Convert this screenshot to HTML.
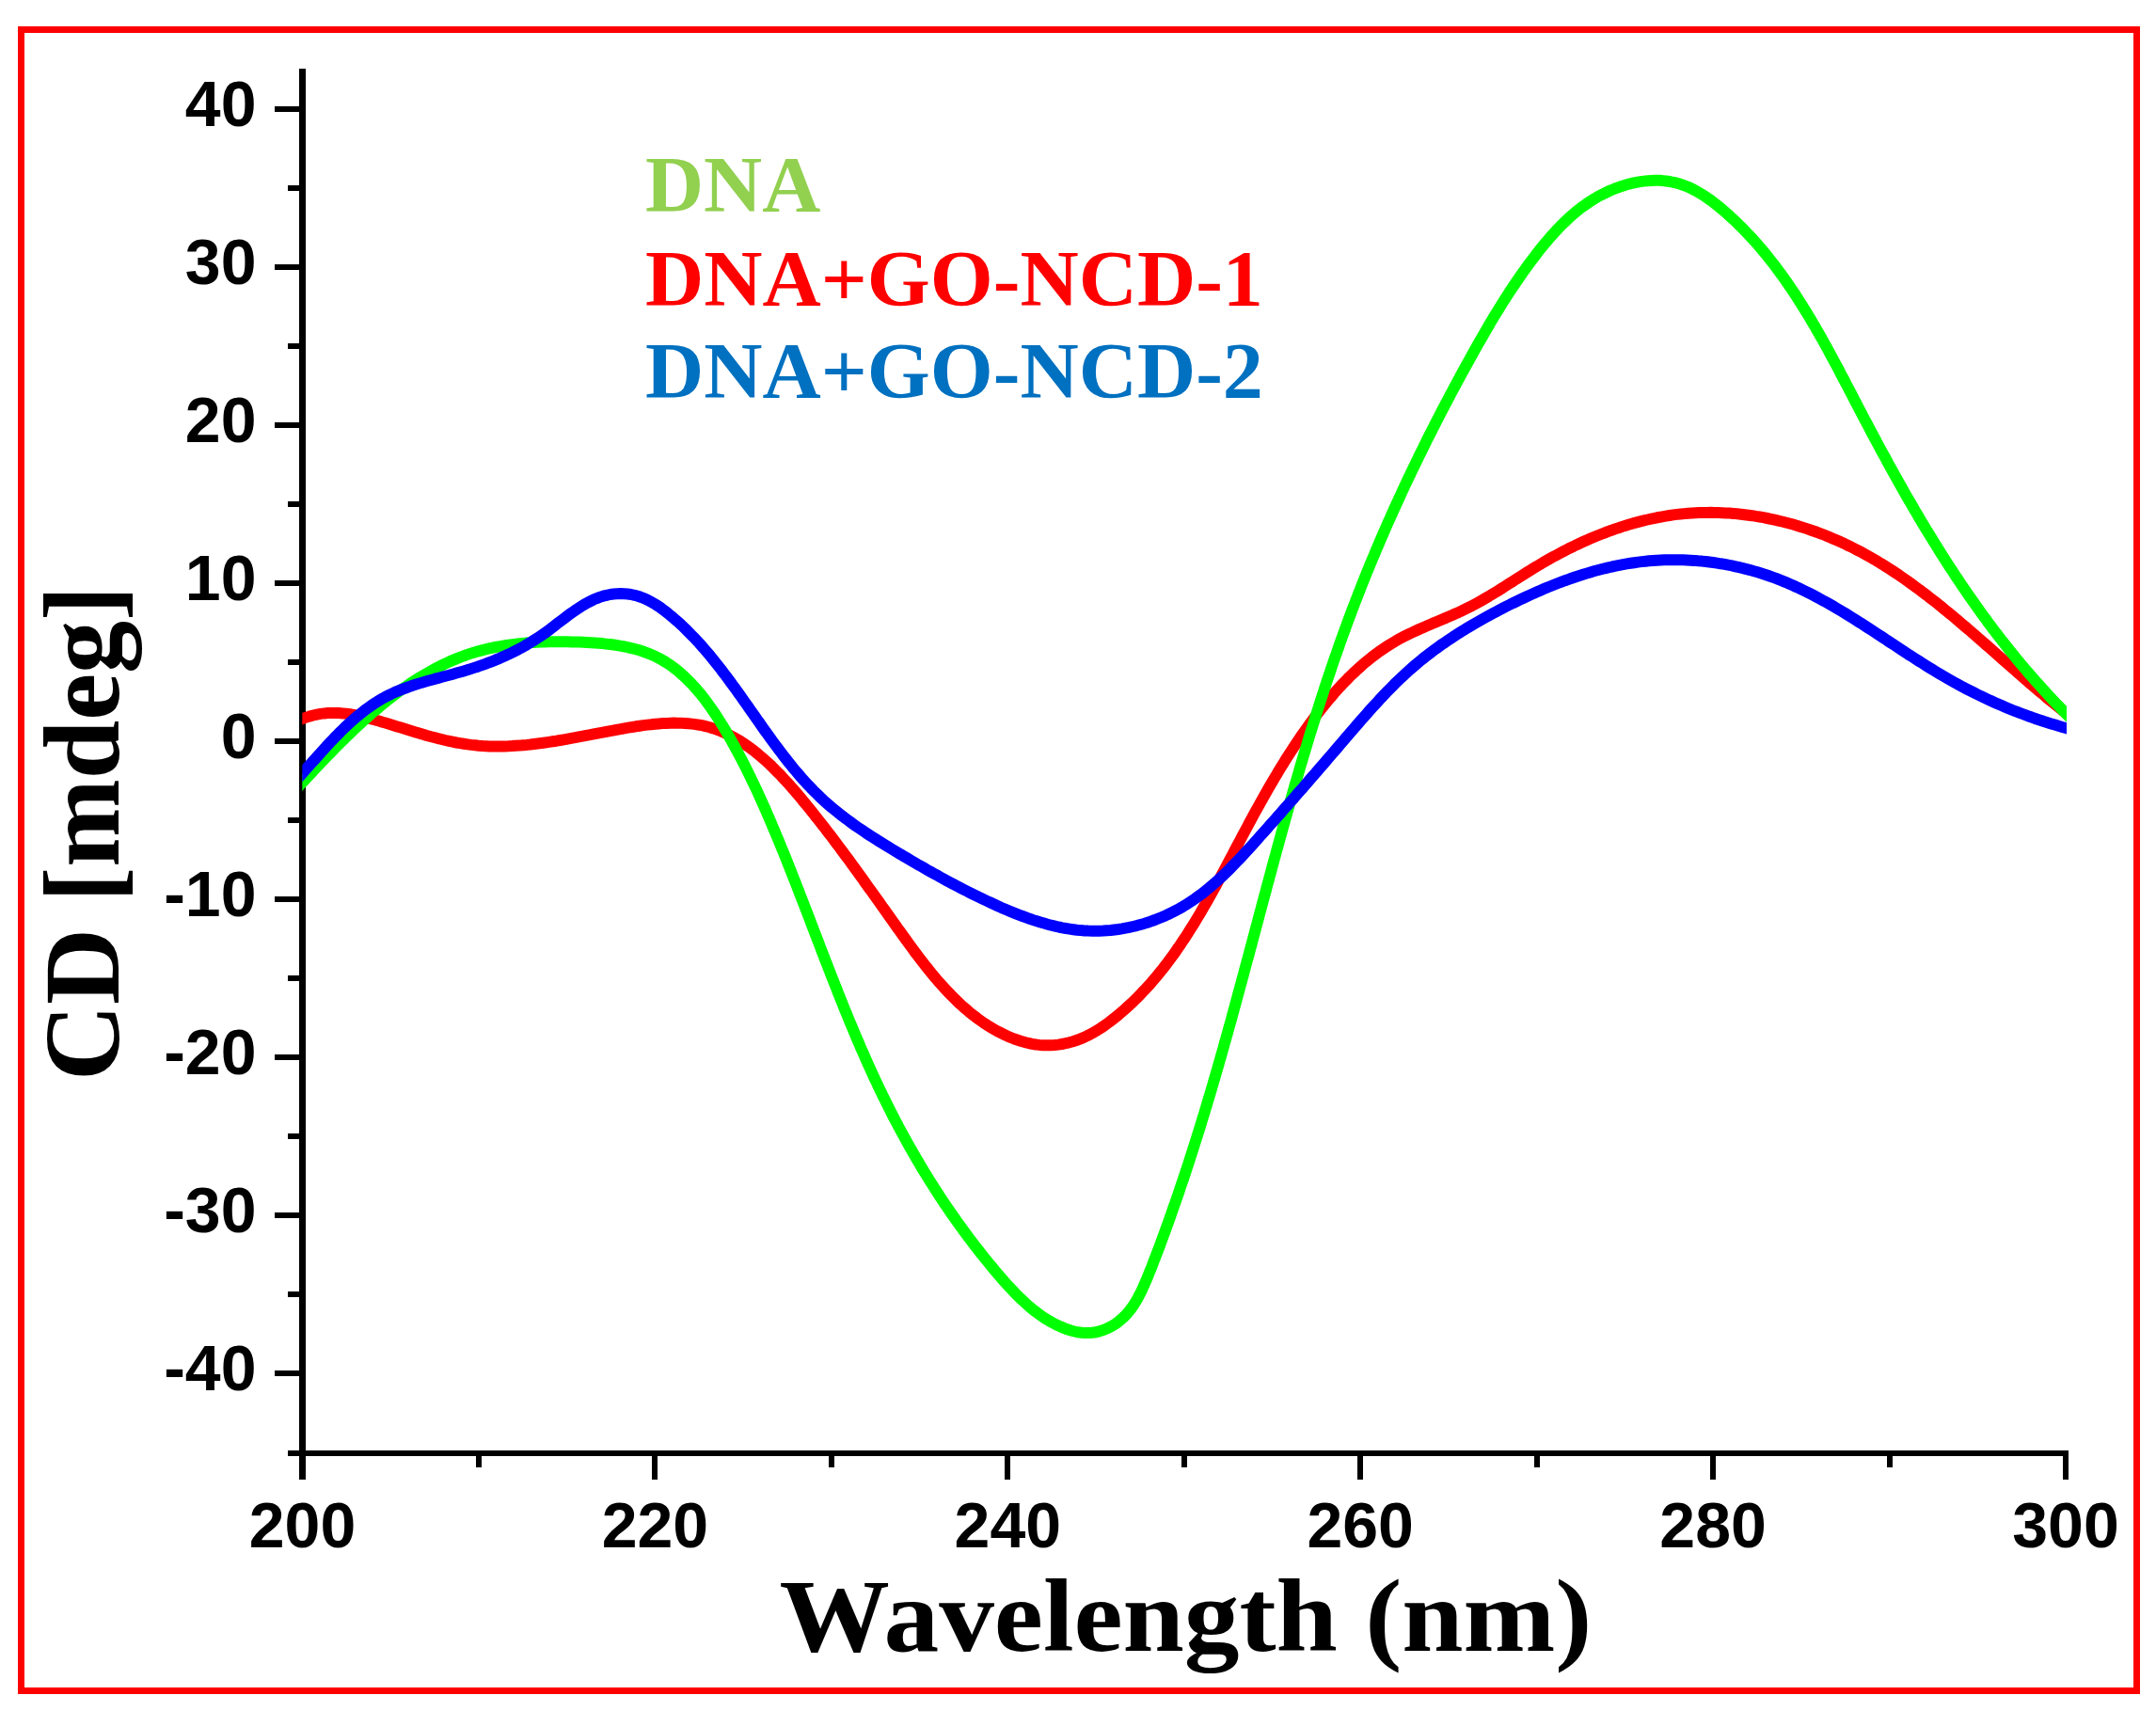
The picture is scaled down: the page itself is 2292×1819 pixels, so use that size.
<!DOCTYPE html>
<html lang="en">
<head>
<meta charset="utf-8">
<title>CD spectra</title>
<style>
html,body{margin:0;padding:0;background:#fff;}
body{width:2292px;height:1819px;overflow:hidden;position:relative;}
svg{display:block;position:absolute;left:0;top:0;}
</style>
</head>
<body>
<svg width="2292" height="1819" viewBox="0 0 2292 1819">
<rect x="0" y="0" width="2292" height="1819" fill="#fff"/>
<rect x="22.5" y="31.5" width="2249" height="1766" fill="none" stroke="#f00" stroke-width="7"/>
<g stroke="#000" fill="none" stroke-linecap="butt">
<line x1="321.5" y1="73" x2="321.5" y2="1573" stroke-width="7"/>
<line x1="306" y1="1545" x2="2199" y2="1545" stroke-width="6"/>
<g stroke-width="6">
<line x1="292" y1="1460" x2="320" y2="1460"/>
<line x1="292" y1="1292" x2="320" y2="1292"/>
<line x1="292" y1="1124" x2="320" y2="1124"/>
<line x1="292" y1="956" x2="320" y2="956"/>
<line x1="292" y1="788" x2="320" y2="788"/>
<line x1="292" y1="620" x2="320" y2="620"/>
<line x1="292" y1="452" x2="320" y2="452"/>
<line x1="292" y1="284" x2="320" y2="284"/>
<line x1="292" y1="116" x2="320" y2="116"/>
<line x1="306" y1="1376" x2="320" y2="1376"/>
<line x1="306" y1="1208" x2="320" y2="1208"/>
<line x1="306" y1="1040" x2="320" y2="1040"/>
<line x1="306" y1="872" x2="320" y2="872"/>
<line x1="306" y1="704" x2="320" y2="704"/>
<line x1="306" y1="536" x2="320" y2="536"/>
<line x1="306" y1="368" x2="320" y2="368"/>
<line x1="306" y1="200" x2="320" y2="200"/>
<line x1="696" y1="1545" x2="696" y2="1573"/>
<line x1="1071" y1="1545" x2="1071" y2="1573"/>
<line x1="1446" y1="1545" x2="1446" y2="1573"/>
<line x1="1821" y1="1545" x2="1821" y2="1573"/>
<line x1="2196" y1="1545" x2="2196" y2="1573"/>
<line x1="509" y1="1545" x2="509" y2="1560"/>
<line x1="884" y1="1545" x2="884" y2="1560"/>
<line x1="1259" y1="1545" x2="1259" y2="1560"/>
<line x1="1634" y1="1545" x2="1634" y2="1560"/>
<line x1="2009" y1="1545" x2="2009" y2="1560"/>
</g>
</g>
<g font-family="'Liberation Sans', Arial, sans-serif" font-weight="bold" font-size="68px" fill="#000">
<text x="272.5" y="1478.3" text-anchor="end">-40</text>
<text x="272.5" y="1310.3" text-anchor="end">-30</text>
<text x="272.5" y="1142.3" text-anchor="end">-20</text>
<text x="272.5" y="974.3" text-anchor="end">-10</text>
<text x="272.5" y="806.3" text-anchor="end">0</text>
<text x="272.5" y="638.3" text-anchor="end">10</text>
<text x="272.5" y="470.3" text-anchor="end">20</text>
<text x="272.5" y="302.3" text-anchor="end">30</text>
<text x="272.5" y="134.3" text-anchor="end">40</text>
<text x="321.5" y="1645.3" text-anchor="middle">200</text>
<text x="696.4" y="1645.3" text-anchor="middle">220</text>
<text x="1071.3" y="1645.3" text-anchor="middle">240</text>
<text x="1446.2" y="1645.3" text-anchor="middle">260</text>
<text x="1821.1" y="1645.3" text-anchor="middle">280</text>
<text x="2196.0" y="1645.3" text-anchor="middle">300</text>
</g>
<defs><clipPath id="cp"><rect x="321.3" y="60" width="1875.7" height="1480"/></clipPath></defs>
<g clip-path="url(#cp)" fill="none" stroke-width="12.0" stroke-linejoin="round" stroke-linecap="butt">
<path stroke="#f00" d="M312.6,767.5 L320.7,764.4 L324.8,762.9 L328.8,761.6 L332.9,760.5 L336.9,759.6 L340.8,758.9 L344.8,758.4 L348.7,758.1 L352.6,757.9 L356.5,757.9 L360.4,758.1 L364.3,758.4 L368.2,758.8 L372.0,759.3 L375.9,759.9 L379.7,760.7 L383.6,761.5 L387.4,762.4 L391.3,763.4 L395.1,764.4 L399.0,765.4 L402.9,766.5 L406.7,767.7 L410.6,768.8 L414.5,770.0 L418.4,771.2 L422.3,772.4 L426.2,773.6 L430.1,774.8 L434.0,776.0 L438.0,777.2 L441.9,778.4 L445.8,779.6 L449.8,780.7 L453.7,781.9 L457.6,783.0 L461.6,784.0 L465.5,785.1 L469.5,786.0 L473.4,787.0 L477.4,787.9 L481.3,788.7 L485.2,789.5 L489.2,790.2 L493.1,790.8 L497.1,791.4 L501.0,791.9 L504.9,792.3 L508.9,792.7 L512.8,793.0 L516.7,793.2 L520.6,793.4 L524.6,793.5 L528.5,793.5 L532.4,793.5 L536.3,793.4 L540.3,793.3 L544.2,793.1 L548.1,792.8 L552.1,792.6 L556.0,792.2 L559.9,791.9 L563.8,791.5 L567.8,791.0 L571.7,790.5 L575.7,790.0 L579.6,789.5 L583.6,788.9 L587.5,788.3 L591.5,787.7 L595.4,787.0 L599.4,786.3 L603.4,785.6 L607.3,784.9 L611.3,784.2 L615.3,783.4 L619.3,782.7 L623.3,781.9 L627.3,781.2 L631.3,780.4 L635.3,779.6 L639.3,778.9 L643.4,778.1 L647.4,777.3 L651.5,776.6 L655.5,775.8 L659.6,775.1 L663.7,774.3 L667.7,773.6 L671.8,773.0 L675.9,772.3 L680.0,771.7 L684.0,771.1 L688.1,770.6 L692.2,770.2 L696.2,769.7 L700.3,769.4 L704.3,769.1 L708.3,768.9 L712.3,768.7 L716.3,768.6 L720.2,768.7 L724.1,768.8 L728.1,768.9 L731.9,769.2 L735.8,769.6 L739.6,770.1 L743.4,770.7 L747.2,771.4 L750.9,772.3 L754.6,773.3 L758.2,774.4 L761.8,775.6 L765.4,776.9 L768.9,778.4 L772.4,780.0 L775.9,781.7 L779.3,783.5 L782.7,785.4 L786.1,787.4 L789.4,789.5 L792.6,791.7 L795.9,794.0 L799.1,796.4 L802.3,798.8 L805.4,801.4 L808.5,804.0 L811.6,806.6 L814.7,809.4 L817.7,812.2 L820.7,815.0 L823.6,817.9 L826.6,820.9 L829.5,823.8 L832.3,826.9 L835.2,830.0 L838.0,833.1 L840.8,836.2 L843.5,839.3 L846.3,842.5 L849.0,845.7 L851.7,848.9 L854.3,852.1 L857.0,855.3 L859.6,858.5 L862.2,861.8 L864.8,865.0 L867.3,868.2 L869.8,871.4 L872.3,874.5 L874.8,877.7 L877.3,880.9 L879.7,884.1 L882.2,887.3 L884.6,890.4 L887.0,893.6 L889.4,896.8 L891.8,900.0 L894.1,903.1 L896.5,906.3 L898.8,909.5 L901.2,912.6 L903.5,915.8 L905.8,919.0 L908.1,922.1 L910.4,925.3 L912.7,928.5 L915.0,931.6 L917.3,934.8 L919.5,938.0 L921.8,941.2 L924.1,944.4 L926.4,947.5 L928.7,950.7 L930.9,953.9 L933.2,957.1 L935.5,960.3 L937.8,963.6 L940.1,966.8 L942.4,970.0 L944.7,973.3 L947.0,976.5 L949.3,979.7 L951.6,983.0 L953.9,986.3 L956.3,989.5 L958.6,992.8 L961.0,996.1 L963.4,999.4 L965.8,1002.7 L968.2,1006.0 L970.6,1009.3 L973.0,1012.6 L975.5,1015.9 L978.0,1019.1 L980.5,1022.4 L983.0,1025.6 L985.5,1028.8 L988.1,1032.0 L990.7,1035.2 L993.3,1038.3 L996.0,1041.5 L998.6,1044.6 L1001.3,1047.6 L1004.1,1050.6 L1006.9,1053.6 L1009.7,1056.5 L1012.5,1059.4 L1015.4,1062.3 L1018.3,1065.1 L1021.2,1067.9 L1024.2,1070.6 L1027.3,1073.2 L1030.3,1075.8 L1033.4,1078.3 L1036.6,1080.8 L1039.8,1083.2 L1043.0,1085.5 L1046.3,1087.8 L1049.7,1090.0 L1053.1,1092.1 L1056.5,1094.1 L1060.0,1096.1 L1063.5,1097.9 L1067.1,1099.7 L1070.8,1101.4 L1074.5,1103.0 L1078.2,1104.5 L1082.0,1105.8 L1085.8,1107.0 L1089.6,1108.1 L1093.4,1109.0 L1097.3,1109.8 L1101.2,1110.5 L1105.2,1110.9 L1109.1,1111.2 L1113.1,1111.3 L1117.0,1111.2 L1121.0,1111.0 L1124.9,1110.6 L1128.9,1110.0 L1132.8,1109.2 L1136.6,1108.3 L1140.5,1107.2 L1144.3,1106.0 L1148.1,1104.6 L1151.8,1103.1 L1155.4,1101.4 L1159.0,1099.6 L1162.5,1097.7 L1166.0,1095.6 L1169.4,1093.5 L1172.8,1091.2 L1176.1,1088.9 L1179.4,1086.5 L1182.6,1084.0 L1185.8,1081.5 L1188.9,1079.0 L1192.0,1076.3 L1195.0,1073.7 L1198.0,1071.0 L1201.0,1068.3 L1203.9,1065.6 L1206.8,1062.8 L1209.6,1060.0 L1212.4,1057.1 L1215.1,1054.2 L1217.9,1051.3 L1220.5,1048.4 L1223.2,1045.4 L1225.8,1042.4 L1228.4,1039.4 L1230.9,1036.4 L1233.4,1033.3 L1235.9,1030.2 L1238.4,1027.0 L1240.8,1023.9 L1243.2,1020.7 L1245.5,1017.5 L1247.9,1014.3 L1250.2,1011.0 L1252.4,1007.7 L1254.7,1004.5 L1256.9,1001.1 L1259.1,997.8 L1261.3,994.5 L1263.5,991.1 L1265.6,987.7 L1267.8,984.3 L1269.9,980.9 L1271.9,977.5 L1274.0,974.0 L1276.1,970.6 L1278.1,967.1 L1280.1,963.6 L1282.1,960.2 L1284.1,956.7 L1286.1,953.1 L1288.1,949.6 L1290.0,946.1 L1292.0,942.6 L1293.9,939.0 L1295.8,935.5 L1297.8,931.9 L1299.7,928.4 L1301.6,924.8 L1303.5,921.2 L1305.4,917.7 L1307.3,914.1 L1309.2,910.5 L1311.1,907.0 L1312.9,903.4 L1314.8,899.8 L1316.7,896.3 L1318.6,892.7 L1320.5,889.1 L1322.4,885.6 L1324.3,882.0 L1326.2,878.5 L1328.1,874.9 L1330.0,871.4 L1331.9,867.9 L1333.8,864.3 L1335.8,860.8 L1337.7,857.3 L1339.7,853.8 L1341.6,850.3 L1343.6,846.8 L1345.6,843.3 L1347.5,839.8 L1349.5,836.4 L1351.5,832.9 L1353.6,829.4 L1355.6,826.0 L1357.7,822.6 L1359.7,819.1 L1361.8,815.7 L1363.9,812.3 L1366.0,808.9 L1368.1,805.5 L1370.3,802.2 L1372.4,798.8 L1374.6,795.4 L1376.8,792.1 L1379.0,788.8 L1381.3,785.5 L1383.5,782.2 L1385.8,778.9 L1388.1,775.6 L1390.5,772.3 L1392.8,769.1 L1395.2,765.9 L1397.6,762.6 L1400.0,759.4 L1402.5,756.3 L1405.0,753.1 L1407.5,750.0 L1410.0,746.8 L1412.6,743.7 L1415.2,740.7 L1417.8,737.6 L1420.5,734.6 L1423.2,731.6 L1425.9,728.7 L1428.6,725.7 L1431.4,722.9 L1434.2,720.0 L1437.1,717.2 L1440.0,714.5 L1442.9,711.7 L1445.9,709.1 L1448.9,706.4 L1451.9,703.8 L1455.0,701.3 L1458.1,698.8 L1461.3,696.4 L1464.5,694.0 L1467.7,691.7 L1471.0,689.5 L1474.3,687.3 L1477.7,685.1 L1481.1,683.1 L1484.5,681.0 L1488.0,679.1 L1491.5,677.2 L1495.1,675.4 L1498.7,673.6 L1502.4,671.9 L1506.0,670.2 L1509.7,668.5 L1513.4,666.9 L1517.2,665.3 L1520.9,663.7 L1524.6,662.1 L1528.4,660.6 L1532.1,659.0 L1535.9,657.4 L1539.6,655.8 L1543.3,654.2 L1547.0,652.5 L1550.7,650.9 L1554.4,649.2 L1558.0,647.4 L1561.6,645.6 L1565.2,643.8 L1568.7,641.9 L1572.3,640.0 L1575.8,638.0 L1579.2,636.0 L1582.7,634.0 L1586.1,631.9 L1589.5,629.9 L1592.9,627.8 L1596.3,625.6 L1599.7,623.5 L1603.1,621.3 L1606.5,619.2 L1609.8,617.0 L1613.2,614.9 L1616.6,612.7 L1620.0,610.6 L1623.4,608.4 L1626.8,606.3 L1630.2,604.2 L1633.6,602.1 L1637.1,600.1 L1640.5,598.0 L1644.0,596.0 L1647.5,594.0 L1651.0,592.1 L1654.6,590.2 L1658.1,588.3 L1661.7,586.4 L1665.3,584.5 L1668.8,582.7 L1672.5,581.0 L1676.1,579.2 L1679.7,577.5 L1683.4,575.8 L1687.0,574.2 L1690.7,572.6 L1694.4,571.0 L1698.1,569.5 L1701.9,568.0 L1705.6,566.6 L1709.3,565.1 L1713.1,563.8 L1716.9,562.4 L1720.7,561.2 L1724.5,559.9 L1728.3,558.7 L1732.1,557.5 L1735.9,556.4 L1739.8,555.4 L1743.6,554.4 L1747.5,553.4 L1751.4,552.5 L1755.3,551.6 L1759.2,550.8 L1763.1,550.0 L1767.0,549.3 L1770.9,548.6 L1774.8,548.0 L1778.8,547.4 L1782.7,546.9 L1786.7,546.5 L1790.7,546.1 L1794.6,545.7 L1798.6,545.4 L1802.6,545.2 L1806.6,545.0 L1810.6,544.9 L1814.6,544.9 L1818.6,544.8 L1822.6,544.9 L1826.6,545.0 L1830.7,545.2 L1834.7,545.4 L1838.7,545.6 L1842.7,545.9 L1846.7,546.3 L1850.7,546.7 L1854.7,547.2 L1858.7,547.7 L1862.7,548.2 L1866.7,548.9 L1870.7,549.5 L1874.7,550.2 L1878.7,551.0 L1882.6,551.8 L1886.6,552.7 L1890.5,553.6 L1894.5,554.5 L1898.4,555.5 L1902.3,556.5 L1906.2,557.6 L1910.1,558.7 L1914.0,559.9 L1917.8,561.1 L1921.7,562.4 L1925.5,563.7 L1929.3,565.0 L1933.1,566.4 L1936.9,567.8 L1940.6,569.3 L1944.4,570.8 L1948.1,572.4 L1951.8,574.0 L1955.4,575.6 L1959.1,577.2 L1962.7,579.0 L1966.3,580.7 L1969.9,582.5 L1973.5,584.3 L1977.0,586.1 L1980.5,588.0 L1984.0,589.9 L1987.5,591.9 L1990.9,593.9 L1994.4,595.9 L1997.8,598.0 L2001.2,600.0 L2004.5,602.1 L2007.9,604.3 L2011.2,606.4 L2014.6,608.6 L2017.9,610.8 L2021.2,613.1 L2024.5,615.4 L2027.7,617.7 L2031.0,620.0 L2034.2,622.3 L2037.4,624.7 L2040.6,627.0 L2043.8,629.5 L2047.0,631.9 L2050.2,634.3 L2053.3,636.8 L2056.5,639.2 L2059.6,641.7 L2062.8,644.2 L2065.9,646.8 L2069.0,649.3 L2072.1,651.9 L2075.2,654.4 L2078.3,657.0 L2081.4,659.6 L2084.4,662.2 L2087.5,664.8 L2090.5,667.4 L2093.6,670.0 L2096.7,672.7 L2099.7,675.3 L2102.7,678.0 L2105.8,680.6 L2108.8,683.3 L2111.8,685.9 L2114.9,688.6 L2117.9,691.2 L2120.9,693.9 L2123.9,696.6 L2126.9,699.2 L2130.0,701.9 L2133.0,704.6 L2136.0,707.2 L2139.0,709.9 L2142.1,712.6 L2145.1,715.2 L2148.1,717.9 L2151.1,720.5 L2154.2,723.1 L2157.2,725.8 L2160.3,728.4 L2163.3,731.0 L2166.4,733.6 L2169.4,736.2 L2172.5,738.7 L2175.6,741.3 L2178.6,743.9 L2181.7,746.4 L2184.8,748.9 L2187.9,751.4 L2191.0,753.9 L2194.1,756.4 L2197.3,758.9 L2203.5,763.8"/>
<path stroke="#0f0" d="M316.2,837.5 L321.4,831.8 L324.1,829.0 L326.7,826.2 L329.4,823.3 L332.1,820.5 L334.7,817.6 L337.5,814.7 L340.2,811.9 L342.9,809.0 L345.7,806.1 L348.4,803.2 L351.2,800.4 L354.0,797.5 L356.8,794.6 L359.7,791.8 L362.5,788.9 L365.4,786.1 L368.3,783.3 L371.2,780.4 L374.1,777.6 L377.0,774.8 L380.0,772.1 L383.0,769.3 L385.9,766.6 L389.0,763.9 L392.0,761.2 L395.0,758.5 L398.1,755.9 L401.2,753.3 L404.3,750.7 L407.4,748.1 L410.5,745.6 L413.7,743.1 L416.9,740.6 L420.1,738.2 L423.3,735.8 L426.6,733.4 L429.8,731.1 L433.1,728.8 L436.4,726.6 L439.8,724.4 L443.1,722.2 L446.5,720.1 L449.9,718.1 L453.3,716.1 L456.8,714.1 L460.2,712.2 L463.7,710.3 L467.2,708.5 L470.8,706.8 L474.3,705.1 L477.9,703.4 L481.5,701.9 L485.1,700.4 L488.8,698.9 L492.5,697.5 L496.2,696.2 L499.9,694.9 L503.7,693.7 L507.5,692.6 L511.3,691.6 L515.1,690.6 L518.9,689.7 L522.8,688.8 L526.7,688.0 L530.6,687.3 L534.6,686.6 L538.5,686.0 L542.5,685.4 L546.5,684.9 L550.5,684.4 L554.5,684.0 L558.5,683.6 L562.6,683.3 L566.6,683.0 L570.7,682.8 L574.8,682.6 L578.8,682.4 L582.9,682.3 L587.0,682.3 L591.1,682.2 L595.2,682.2 L599.3,682.2 L603.5,682.3 L607.6,682.4 L611.7,682.5 L615.8,682.6 L619.9,682.8 L624.1,683.0 L628.2,683.2 L632.3,683.5 L636.4,683.8 L640.4,684.1 L644.5,684.6 L648.5,685.0 L652.5,685.5 L656.5,686.1 L660.5,686.8 L664.4,687.5 L668.3,688.4 L672.1,689.3 L675.9,690.3 L679.7,691.3 L683.4,692.5 L687.0,693.8 L690.6,695.2 L694.2,696.7 L697.7,698.4 L701.1,700.1 L704.5,702.0 L707.8,704.0 L711.0,706.1 L714.2,708.3 L717.3,710.6 L720.4,713.0 L723.4,715.6 L726.3,718.2 L729.2,720.9 L732.0,723.7 L734.8,726.5 L737.6,729.5 L740.2,732.5 L742.9,735.6 L745.5,738.7 L748.0,741.9 L750.5,745.2 L752.9,748.5 L755.3,751.9 L757.7,755.3 L760.0,758.7 L762.3,762.1 L764.5,765.6 L766.7,769.1 L768.9,772.7 L771.0,776.2 L773.1,779.8 L775.2,783.3 L777.2,786.9 L779.2,790.4 L781.2,794.0 L783.1,797.6 L785.0,801.1 L786.9,804.7 L788.8,808.2 L790.6,811.8 L792.4,815.3 L794.2,818.9 L795.9,822.4 L797.7,826.0 L799.4,829.6 L801.1,833.1 L802.8,836.7 L804.5,840.3 L806.1,843.8 L807.7,847.4 L809.4,851.0 L811.0,854.6 L812.6,858.2 L814.2,861.8 L815.7,865.4 L817.3,869.0 L818.9,872.6 L820.4,876.2 L821.9,879.9 L823.5,883.5 L825.0,887.2 L826.5,890.8 L828.1,894.5 L829.6,898.2 L831.1,901.9 L832.6,905.5 L834.1,909.2 L835.6,912.9 L837.0,916.6 L838.5,920.3 L840.0,924.1 L841.5,927.8 L842.9,931.5 L844.4,935.2 L845.9,938.9 L847.3,942.7 L848.8,946.4 L850.2,950.2 L851.7,953.9 L853.1,957.6 L854.6,961.4 L856.0,965.1 L857.5,968.9 L858.9,972.6 L860.4,976.4 L861.8,980.2 L863.2,983.9 L864.7,987.7 L866.1,991.5 L867.6,995.2 L869.0,999.0 L870.5,1002.7 L871.9,1006.5 L873.3,1010.3 L874.8,1014.0 L876.2,1017.8 L877.7,1021.6 L879.2,1025.3 L880.6,1029.1 L882.1,1032.9 L883.5,1036.6 L885.0,1040.4 L886.5,1044.1 L888.0,1047.9 L889.5,1051.6 L890.9,1055.4 L892.4,1059.1 L893.9,1062.9 L895.4,1066.6 L896.9,1070.4 L898.4,1074.1 L900.0,1077.8 L901.5,1081.6 L903.0,1085.3 L904.6,1089.0 L906.1,1092.7 L907.7,1096.4 L909.2,1100.1 L910.8,1103.8 L912.4,1107.5 L914.0,1111.2 L915.5,1114.9 L917.2,1118.5 L918.8,1122.2 L920.4,1125.9 L922.0,1129.5 L923.7,1133.2 L925.3,1136.8 L927.0,1140.5 L928.6,1144.1 L930.3,1147.7 L932.0,1151.3 L933.7,1154.9 L935.4,1158.5 L937.2,1162.1 L938.9,1165.7 L940.7,1169.2 L942.4,1172.8 L944.2,1176.3 L946.0,1179.9 L947.8,1183.4 L949.6,1187.0 L951.4,1190.5 L953.3,1194.0 L955.1,1197.5 L957.0,1201.0 L958.9,1204.5 L960.8,1208.0 L962.7,1211.4 L964.6,1214.9 L966.6,1218.4 L968.5,1221.8 L970.5,1225.3 L972.5,1228.7 L974.4,1232.1 L976.5,1235.5 L978.5,1239.0 L980.5,1242.4 L982.6,1245.8 L984.7,1249.1 L986.7,1252.5 L988.8,1255.9 L991.0,1259.3 L993.1,1262.6 L995.3,1266.0 L997.4,1269.3 L999.6,1272.7 L1001.8,1276.0 L1004.0,1279.3 L1006.3,1282.6 L1008.5,1285.9 L1010.8,1289.2 L1013.1,1292.5 L1015.4,1295.8 L1017.7,1299.1 L1020.1,1302.4 L1022.4,1305.6 L1024.8,1308.9 L1027.2,1312.1 L1029.6,1315.4 L1032.1,1318.6 L1034.5,1321.8 L1037.0,1325.1 L1039.5,1328.3 L1042.0,1331.5 L1044.6,1334.7 L1047.1,1337.9 L1049.7,1341.0 L1052.3,1344.2 L1054.9,1347.4 L1057.5,1350.6 L1060.2,1353.7 L1062.9,1356.9 L1065.6,1360.0 L1068.3,1363.1 L1071.1,1366.2 L1073.9,1369.2 L1076.7,1372.2 L1079.5,1375.2 L1082.4,1378.1 L1085.3,1380.9 L1088.3,1383.7 L1091.3,1386.4 L1094.3,1389.1 L1097.4,1391.7 L1100.6,1394.1 L1103.7,1396.5 L1107.0,1398.9 L1110.2,1401.1 L1113.6,1403.2 L1116.9,1405.2 L1120.4,1407.0 L1123.9,1408.8 L1127.4,1410.4 L1131.0,1411.9 L1134.7,1413.3 L1138.4,1414.5 L1142.2,1415.5 L1146.0,1416.3 L1149.8,1416.8 L1153.7,1417.1 L1157.5,1417.1 L1161.3,1416.8 L1165.1,1416.2 L1168.8,1415.3 L1172.5,1414.1 L1176.0,1412.7 L1179.6,1411.1 L1183.0,1409.2 L1186.3,1407.1 L1189.5,1404.7 L1192.5,1402.2 L1195.4,1399.5 L1198.1,1396.6 L1200.7,1393.5 L1203.2,1390.3 L1205.4,1386.9 L1207.6,1383.4 L1209.7,1379.8 L1211.6,1376.1 L1213.5,1372.4 L1215.2,1368.6 L1216.9,1364.8 L1218.6,1360.9 L1220.2,1357.1 L1221.7,1353.2 L1223.3,1349.4 L1224.8,1345.6 L1226.2,1341.8 L1227.7,1338.1 L1229.1,1334.3 L1230.6,1330.5 L1232.0,1326.8 L1233.4,1323.1 L1234.7,1319.3 L1236.1,1315.6 L1237.5,1311.9 L1238.9,1308.1 L1240.2,1304.4 L1241.6,1300.6 L1242.9,1296.9 L1244.3,1293.1 L1245.6,1289.3 L1246.9,1285.6 L1248.2,1281.8 L1249.6,1278.0 L1250.9,1274.3 L1252.2,1270.5 L1253.5,1266.7 L1254.7,1262.9 L1256.0,1259.1 L1257.3,1255.3 L1258.6,1251.5 L1259.8,1247.8 L1261.1,1244.0 L1262.3,1240.2 L1263.6,1236.4 L1264.8,1232.6 L1266.0,1228.8 L1267.3,1224.9 L1268.5,1221.1 L1269.7,1217.3 L1270.9,1213.5 L1272.1,1209.7 L1273.3,1205.9 L1274.5,1202.1 L1275.7,1198.2 L1276.9,1194.4 L1278.0,1190.6 L1279.2,1186.8 L1280.4,1182.9 L1281.5,1179.1 L1282.7,1175.3 L1283.8,1171.4 L1285.0,1167.6 L1286.1,1163.8 L1287.3,1159.9 L1288.4,1156.1 L1289.5,1152.3 L1290.6,1148.4 L1291.8,1144.6 L1292.9,1140.7 L1294.0,1136.9 L1295.1,1133.0 L1296.2,1129.2 L1297.3,1125.3 L1298.4,1121.5 L1299.5,1117.6 L1300.6,1113.8 L1301.6,1109.9 L1302.7,1106.1 L1303.8,1102.2 L1304.9,1098.3 L1306.0,1094.5 L1307.0,1090.6 L1308.1,1086.8 L1309.2,1082.9 L1310.2,1079.0 L1311.3,1075.2 L1312.3,1071.3 L1313.4,1067.5 L1314.4,1063.6 L1315.5,1059.7 L1316.5,1055.9 L1317.6,1052.0 L1318.6,1048.1 L1319.7,1044.3 L1320.7,1040.4 L1321.8,1036.5 L1322.8,1032.6 L1323.8,1028.8 L1324.9,1024.9 L1325.9,1021.0 L1327.0,1017.2 L1328.0,1013.3 L1329.0,1009.4 L1330.1,1005.5 L1331.1,1001.7 L1332.1,997.8 L1333.2,993.9 L1334.2,990.1 L1335.2,986.2 L1336.3,982.3 L1337.3,978.4 L1338.3,974.6 L1339.3,970.7 L1340.4,966.8 L1341.4,962.9 L1342.4,959.1 L1343.5,955.2 L1344.5,951.3 L1345.6,947.5 L1346.6,943.6 L1347.6,939.7 L1348.7,935.8 L1349.7,932.0 L1350.8,928.1 L1351.8,924.2 L1352.8,920.4 L1353.9,916.5 L1354.9,912.6 L1356.0,908.8 L1357.0,904.9 L1358.1,901.0 L1359.2,897.2 L1360.2,893.3 L1361.3,889.4 L1362.3,885.6 L1363.4,881.7 L1364.5,877.9 L1365.5,874.0 L1366.6,870.1 L1367.7,866.3 L1368.8,862.4 L1369.9,858.6 L1370.9,854.7 L1372.0,850.9 L1373.1,847.0 L1374.2,843.2 L1375.3,839.3 L1376.4,835.5 L1377.5,831.6 L1378.7,827.8 L1379.8,823.9 L1380.9,820.1 L1382.0,816.2 L1383.1,812.4 L1384.3,808.6 L1385.4,804.7 L1386.6,800.9 L1387.7,797.1 L1388.9,793.2 L1390.0,789.4 L1391.2,785.6 L1392.3,781.7 L1393.5,777.9 L1394.7,774.1 L1395.9,770.3 L1397.1,766.4 L1398.3,762.6 L1399.5,758.8 L1400.7,755.0 L1401.9,751.2 L1403.1,747.4 L1404.3,743.6 L1405.6,739.8 L1406.8,735.9 L1408.0,732.1 L1409.3,728.3 L1410.5,724.5 L1411.8,720.8 L1413.1,717.0 L1414.4,713.2 L1415.6,709.4 L1416.9,705.6 L1418.2,701.8 L1419.5,698.0 L1420.9,694.3 L1422.2,690.5 L1423.5,686.7 L1424.8,682.9 L1426.2,679.2 L1427.5,675.4 L1428.9,671.6 L1430.3,667.9 L1431.6,664.1 L1433.0,660.4 L1434.4,656.6 L1435.8,652.9 L1437.2,649.1 L1438.6,645.4 L1440.1,641.6 L1441.5,637.9 L1443.0,634.2 L1444.4,630.4 L1445.9,626.7 L1447.3,623.0 L1448.8,619.3 L1450.3,615.5 L1451.8,611.8 L1453.3,608.1 L1454.8,604.4 L1456.3,600.7 L1457.9,597.0 L1459.4,593.3 L1461.0,589.6 L1462.5,585.9 L1464.1,582.2 L1465.7,578.5 L1467.2,574.8 L1468.8,571.1 L1470.4,567.5 L1472.0,563.8 L1473.6,560.1 L1475.2,556.4 L1476.9,552.8 L1478.5,549.1 L1480.1,545.5 L1481.8,541.8 L1483.4,538.2 L1485.1,534.5 L1486.8,530.9 L1488.5,527.2 L1490.1,523.6 L1491.8,519.9 L1493.5,516.3 L1495.2,512.7 L1496.9,509.0 L1498.7,505.4 L1500.4,501.8 L1502.1,498.2 L1503.9,494.6 L1505.6,491.0 L1507.4,487.4 L1509.1,483.8 L1510.9,480.2 L1512.7,476.6 L1514.5,473.0 L1516.2,469.4 L1518.0,465.8 L1519.8,462.2 L1521.7,458.6 L1523.5,455.1 L1525.3,451.5 L1527.1,447.9 L1528.9,444.4 L1530.8,440.8 L1532.6,437.2 L1534.5,433.7 L1536.3,430.1 L1538.2,426.6 L1540.1,423.0 L1541.9,419.5 L1543.8,416.0 L1545.7,412.4 L1547.6,408.9 L1549.5,405.4 L1551.4,401.9 L1553.3,398.3 L1555.2,394.8 L1557.1,391.3 L1559.1,387.8 L1561.0,384.3 L1562.9,380.8 L1564.9,377.3 L1566.8,373.8 L1568.8,370.3 L1570.7,366.8 L1572.7,363.4 L1574.7,359.9 L1576.7,356.4 L1578.7,353.0 L1580.7,349.5 L1582.7,346.1 L1584.7,342.6 L1586.8,339.2 L1588.8,335.8 L1590.9,332.4 L1593.0,329.0 L1595.1,325.6 L1597.2,322.2 L1599.3,318.8 L1601.5,315.5 L1603.7,312.1 L1605.8,308.8 L1608.1,305.4 L1610.3,302.1 L1612.5,298.8 L1614.8,295.5 L1617.1,292.2 L1619.4,288.9 L1621.7,285.7 L1624.1,282.4 L1626.5,279.2 L1628.9,276.0 L1631.3,272.8 L1633.7,269.6 L1636.2,266.4 L1638.7,263.3 L1641.3,260.2 L1643.9,257.1 L1646.5,254.0 L1649.1,251.0 L1651.8,248.0 L1654.5,245.0 L1657.3,242.1 L1660.1,239.2 L1663.0,236.4 L1665.9,233.6 L1668.8,230.9 L1671.8,228.3 L1674.9,225.7 L1678.0,223.2 L1681.1,220.7 L1684.4,218.3 L1687.7,216.0 L1691.0,213.8 L1694.4,211.7 L1697.9,209.6 L1701.5,207.6 L1705.1,205.8 L1708.8,204.0 L1712.5,202.3 L1716.3,200.7 L1720.1,199.3 L1724.0,197.9 L1727.9,196.7 L1731.8,195.6 L1735.7,194.7 L1739.7,193.8 L1743.7,193.1 L1747.6,192.6 L1751.6,192.2 L1755.6,191.9 L1759.6,191.8 L1763.5,191.8 L1767.4,192.1 L1771.3,192.5 L1775.2,193.0 L1779.0,193.8 L1782.8,194.7 L1786.6,195.8 L1790.2,197.1 L1793.9,198.5 L1797.5,200.1 L1801.0,201.9 L1804.5,203.8 L1807.9,205.8 L1811.3,207.9 L1814.7,210.2 L1818.0,212.5 L1821.3,214.9 L1824.5,217.4 L1827.7,220.0 L1830.8,222.6 L1833.9,225.3 L1837.0,228.0 L1840.0,230.8 L1843.0,233.5 L1845.9,236.3 L1848.8,239.2 L1851.7,242.0 L1854.5,244.9 L1857.3,247.8 L1860.0,250.7 L1862.8,253.7 L1865.4,256.6 L1868.1,259.6 L1870.7,262.6 L1873.3,265.7 L1875.9,268.7 L1878.4,271.8 L1880.9,274.9 L1883.4,278.1 L1885.8,281.2 L1888.2,284.4 L1890.6,287.6 L1893.0,290.8 L1895.3,294.0 L1897.6,297.2 L1899.9,300.5 L1902.1,303.8 L1904.4,307.1 L1906.6,310.4 L1908.8,313.7 L1910.9,317.0 L1913.1,320.4 L1915.2,323.7 L1917.3,327.1 L1919.4,330.5 L1921.5,333.9 L1923.6,337.3 L1925.6,340.8 L1927.6,344.2 L1929.7,347.6 L1931.6,351.1 L1933.6,354.6 L1935.6,358.1 L1937.6,361.5 L1939.5,365.0 L1941.5,368.5 L1943.4,372.0 L1945.3,375.6 L1947.2,379.1 L1949.1,382.6 L1951.0,386.2 L1952.9,389.7 L1954.8,393.2 L1956.6,396.8 L1958.5,400.3 L1960.4,403.9 L1962.2,407.5 L1964.1,411.0 L1966.0,414.6 L1967.8,418.1 L1969.7,421.7 L1971.5,425.3 L1973.4,428.8 L1975.2,432.4 L1977.1,436.0 L1979.0,439.5 L1980.8,443.1 L1982.7,446.7 L1984.6,450.2 L1986.5,453.8 L1988.3,457.3 L1990.2,460.9 L1992.1,464.4 L1994.0,467.9 L1995.9,471.5 L1997.8,475.0 L1999.7,478.6 L2001.6,482.1 L2003.6,485.6 L2005.5,489.1 L2007.4,492.7 L2009.3,496.2 L2011.3,499.7 L2013.2,503.2 L2015.2,506.7 L2017.1,510.2 L2019.1,513.7 L2021.1,517.2 L2023.0,520.7 L2025.0,524.2 L2027.0,527.7 L2029.0,531.1 L2031.0,534.6 L2033.0,538.1 L2035.0,541.5 L2037.1,545.0 L2039.1,548.4 L2041.1,551.9 L2043.2,555.3 L2045.3,558.8 L2047.3,562.2 L2049.4,565.6 L2051.5,569.0 L2053.6,572.4 L2055.7,575.8 L2057.8,579.2 L2059.9,582.6 L2062.0,586.0 L2064.1,589.4 L2066.3,592.8 L2068.4,596.1 L2070.6,599.5 L2072.8,602.9 L2075.0,606.2 L2077.2,609.5 L2079.4,612.9 L2081.6,616.2 L2083.8,619.5 L2086.0,622.8 L2088.3,626.1 L2090.5,629.4 L2092.8,632.7 L2095.1,636.0 L2097.4,639.3 L2099.7,642.5 L2102.0,645.8 L2104.3,649.0 L2106.6,652.2 L2109.0,655.5 L2111.4,658.7 L2113.7,661.9 L2116.1,665.1 L2118.5,668.3 L2120.9,671.5 L2123.4,674.7 L2125.8,677.8 L2128.2,681.0 L2130.7,684.1 L2133.2,687.3 L2135.7,690.4 L2138.2,693.5 L2140.7,696.6 L2143.2,699.7 L2145.8,702.8 L2148.3,705.9 L2150.9,708.9 L2153.5,712.0 L2156.1,715.0 L2158.7,718.1 L2161.4,721.1 L2164.0,724.1 L2166.7,727.1 L2169.4,730.1 L2172.1,733.0 L2174.8,736.0 L2177.5,739.0 L2180.2,741.9 L2183.0,744.8 L2185.8,747.8 L2188.6,750.7 L2191.4,753.6 L2194.2,756.4 L2197.0,759.3 L2202.7,765.1"/>
<path stroke="#00f" d="M315.9,828.2 L321.1,822.4 L323.7,819.5 L326.3,816.6 L329.0,813.6 L331.6,810.6 L334.3,807.7 L336.9,804.7 L339.6,801.7 L342.3,798.7 L345.0,795.7 L347.8,792.7 L350.5,789.7 L353.3,786.8 L356.1,783.8 L359.0,780.9 L361.8,778.0 L364.7,775.2 L367.6,772.4 L370.6,769.6 L373.6,766.9 L376.6,764.2 L379.7,761.6 L382.8,759.1 L385.9,756.6 L389.1,754.1 L392.3,751.8 L395.6,749.5 L398.9,747.3 L402.3,745.2 L405.7,743.1 L409.2,741.2 L412.7,739.4 L416.3,737.6 L419.9,735.9 L423.6,734.4 L427.3,732.9 L431.1,731.5 L434.8,730.1 L438.6,728.8 L442.5,727.6 L446.3,726.4 L450.2,725.2 L454.1,724.1 L458.0,723.0 L461.9,721.9 L465.8,720.9 L469.7,719.8 L473.6,718.8 L477.5,717.8 L481.4,716.7 L485.2,715.6 L489.1,714.5 L492.9,713.4 L496.7,712.3 L500.4,711.1 L504.2,709.9 L507.9,708.7 L511.6,707.4 L515.3,706.1 L519.0,704.7 L522.6,703.3 L526.2,701.9 L529.8,700.4 L533.4,698.8 L537.0,697.2 L540.6,695.6 L544.1,693.9 L547.6,692.1 L551.1,690.3 L554.6,688.4 L558.1,686.5 L561.6,684.4 L565.0,682.4 L568.5,680.2 L571.9,678.0 L575.3,675.7 L578.8,673.3 L582.2,670.8 L585.6,668.3 L588.9,665.7 L592.3,663.1 L595.7,660.5 L599.1,657.9 L602.5,655.4 L605.9,652.8 L609.4,650.4 L612.8,648.0 L616.3,645.7 L619.7,643.5 L623.2,641.5 L626.8,639.6 L630.3,637.8 L633.9,636.3 L637.5,634.9 L641.2,633.7 L644.9,632.8 L648.6,632.0 L652.3,631.5 L656.0,631.2 L659.8,631.1 L663.5,631.2 L667.2,631.5 L670.9,632.0 L674.5,632.8 L678.1,633.8 L681.7,635.0 L685.3,636.4 L688.7,638.0 L692.2,639.8 L695.6,641.8 L698.9,643.9 L702.2,646.1 L705.4,648.5 L708.6,650.9 L711.7,653.5 L714.8,656.0 L717.9,658.7 L720.9,661.3 L723.9,664.0 L726.8,666.8 L729.7,669.6 L732.5,672.4 L735.3,675.3 L738.1,678.2 L740.9,681.1 L743.6,684.0 L746.2,687.0 L748.9,690.1 L751.5,693.1 L754.1,696.2 L756.7,699.3 L759.2,702.4 L761.7,705.6 L764.2,708.7 L766.7,711.9 L769.1,715.2 L771.6,718.4 L774.0,721.6 L776.4,724.9 L778.8,728.2 L781.2,731.4 L783.6,734.7 L785.9,738.0 L788.3,741.3 L790.6,744.7 L793.0,748.0 L795.3,751.3 L797.6,754.6 L800.0,758.0 L802.3,761.3 L804.6,764.6 L807.0,767.9 L809.3,771.2 L811.6,774.6 L814.0,777.9 L816.3,781.1 L818.7,784.4 L821.1,787.7 L823.5,791.0 L825.9,794.2 L828.3,797.4 L830.8,800.6 L833.2,803.8 L835.7,807.0 L838.2,810.2 L840.7,813.3 L843.2,816.4 L845.8,819.5 L848.4,822.5 L851.0,825.6 L853.6,828.6 L856.3,831.5 L859.0,834.5 L861.8,837.3 L864.5,840.2 L867.4,843.0 L870.2,845.8 L873.1,848.6 L876.0,851.3 L879.0,854.0 L882.0,856.6 L885.0,859.2 L888.1,861.7 L891.2,864.2 L894.4,866.7 L897.5,869.1 L900.8,871.5 L904.0,873.9 L907.3,876.3 L910.5,878.6 L913.9,880.9 L917.2,883.1 L920.5,885.4 L923.9,887.6 L927.3,889.8 L930.7,891.9 L934.1,894.1 L937.5,896.2 L941.0,898.3 L944.4,900.4 L947.8,902.5 L951.3,904.6 L954.7,906.7 L958.2,908.7 L961.6,910.8 L965.1,912.8 L968.5,914.8 L972.0,916.9 L975.4,918.9 L978.9,920.8 L982.4,922.8 L985.8,924.8 L989.3,926.8 L992.8,928.7 L996.3,930.6 L999.8,932.6 L1003.3,934.5 L1006.8,936.4 L1010.3,938.3 L1013.8,940.1 L1017.4,942.0 L1020.9,943.8 L1024.5,945.7 L1028.1,947.5 L1031.6,949.3 L1035.2,951.1 L1038.9,952.9 L1042.5,954.6 L1046.1,956.4 L1049.8,958.1 L1053.4,959.8 L1057.1,961.5 L1060.8,963.2 L1064.5,964.9 L1068.2,966.5 L1071.9,968.1 L1075.7,969.6 L1079.4,971.1 L1083.2,972.6 L1087.0,974.0 L1090.8,975.4 L1094.6,976.8 L1098.4,978.1 L1102.2,979.3 L1106.1,980.5 L1109.9,981.6 L1113.8,982.7 L1117.6,983.7 L1121.5,984.6 L1125.4,985.5 L1129.3,986.3 L1133.2,987.0 L1137.1,987.6 L1141.1,988.2 L1145.0,988.7 L1148.9,989.1 L1152.9,989.4 L1156.8,989.6 L1160.8,989.7 L1164.8,989.8 L1168.8,989.7 L1172.8,989.6 L1176.7,989.3 L1180.7,989.0 L1184.7,988.5 L1188.7,988.0 L1192.7,987.4 L1196.6,986.7 L1200.6,985.9 L1204.5,985.0 L1208.4,984.1 L1212.3,983.0 L1216.2,981.9 L1220.0,980.7 L1223.9,979.4 L1227.7,978.0 L1231.4,976.5 L1235.2,975.0 L1238.9,973.4 L1242.5,971.7 L1246.2,969.9 L1249.7,968.1 L1253.3,966.2 L1256.8,964.2 L1260.2,962.2 L1263.6,960.0 L1267.0,957.8 L1270.2,955.6 L1273.5,953.2 L1276.7,950.9 L1279.9,948.4 L1283.0,945.9 L1286.1,943.4 L1289.1,940.8 L1292.1,938.1 L1295.1,935.5 L1298.0,932.7 L1301.0,930.0 L1303.9,927.2 L1306.7,924.4 L1309.5,921.5 L1312.4,918.6 L1315.2,915.7 L1317.9,912.8 L1320.7,909.8 L1323.4,906.9 L1326.2,903.9 L1328.9,900.9 L1331.6,897.9 L1334.3,894.9 L1337.0,891.9 L1339.6,888.9 L1342.3,885.9 L1345.0,882.9 L1347.7,879.9 L1350.3,876.9 L1353.0,873.9 L1355.7,870.9 L1358.3,867.9 L1361.0,864.9 L1363.6,861.9 L1366.2,858.9 L1368.9,855.9 L1371.5,852.9 L1374.2,849.9 L1376.8,846.9 L1379.4,843.9 L1382.0,840.9 L1384.7,837.9 L1387.3,834.9 L1389.9,831.8 L1392.5,828.8 L1395.1,825.8 L1397.8,822.8 L1400.4,819.8 L1403.0,816.7 L1405.6,813.7 L1408.2,810.7 L1410.8,807.6 L1413.4,804.6 L1416.0,801.6 L1418.7,798.5 L1421.3,795.5 L1423.9,792.4 L1426.5,789.4 L1429.1,786.3 L1431.7,783.2 L1434.4,780.2 L1437.0,777.1 L1439.6,774.1 L1442.3,771.0 L1444.9,768.0 L1447.5,764.9 L1450.2,761.9 L1452.9,758.9 L1455.6,755.8 L1458.3,752.8 L1461.0,749.9 L1463.7,746.9 L1466.4,743.9 L1469.2,741.0 L1471.9,738.1 L1474.7,735.2 L1477.5,732.3 L1480.4,729.4 L1483.2,726.6 L1486.1,723.8 L1489.0,721.0 L1491.9,718.3 L1494.8,715.6 L1497.8,712.9 L1500.8,710.2 L1503.8,707.6 L1506.8,705.1 L1509.9,702.5 L1513.0,700.0 L1516.1,697.5 L1519.3,695.1 L1522.4,692.7 L1525.6,690.3 L1528.9,688.0 L1532.1,685.6 L1535.4,683.4 L1538.7,681.1 L1542.0,678.9 L1545.3,676.7 L1548.7,674.5 L1552.1,672.4 L1555.4,670.3 L1558.9,668.2 L1562.3,666.1 L1565.7,664.1 L1569.2,662.1 L1572.7,660.1 L1576.2,658.1 L1579.7,656.1 L1583.2,654.2 L1586.8,652.3 L1590.3,650.4 L1593.9,648.5 L1597.5,646.7 L1601.1,644.8 L1604.7,643.0 L1608.3,641.2 L1611.9,639.5 L1615.6,637.7 L1619.2,636.0 L1622.9,634.3 L1626.5,632.6 L1630.2,630.9 L1633.9,629.3 L1637.6,627.7 L1641.3,626.1 L1645.0,624.5 L1648.8,623.0 L1652.5,621.5 L1656.3,620.0 L1660.0,618.6 L1663.8,617.2 L1667.6,615.9 L1671.4,614.5 L1675.2,613.2 L1679.0,612.0 L1682.8,610.8 L1686.6,609.6 L1690.5,608.4 L1694.3,607.3 L1698.2,606.3 L1702.1,605.3 L1705.9,604.3 L1709.8,603.4 L1713.7,602.5 L1717.6,601.7 L1721.5,600.9 L1725.5,600.1 L1729.4,599.4 L1733.3,598.8 L1737.3,598.2 L1741.2,597.6 L1745.2,597.1 L1749.2,596.7 L1753.1,596.3 L1757.1,596.0 L1761.1,595.7 L1765.1,595.5 L1769.1,595.3 L1773.1,595.2 L1777.2,595.2 L1781.2,595.2 L1785.2,595.2 L1789.2,595.3 L1793.2,595.5 L1797.3,595.7 L1801.3,595.9 L1805.3,596.3 L1809.3,596.6 L1813.3,597.0 L1817.3,597.5 L1821.3,598.0 L1825.3,598.6 L1829.3,599.3 L1833.3,599.9 L1837.2,600.7 L1841.2,601.4 L1845.1,602.3 L1849.0,603.2 L1852.9,604.1 L1856.8,605.1 L1860.7,606.1 L1864.6,607.2 L1868.5,608.3 L1872.3,609.5 L1876.1,610.7 L1879.9,612.0 L1883.7,613.4 L1887.4,614.7 L1891.2,616.2 L1894.9,617.6 L1898.6,619.1 L1902.2,620.7 L1905.9,622.3 L1909.5,624.0 L1913.1,625.6 L1916.7,627.4 L1920.3,629.1 L1923.9,630.9 L1927.4,632.7 L1931.0,634.6 L1934.5,636.5 L1938.0,638.4 L1941.5,640.3 L1945.0,642.3 L1948.5,644.3 L1951.9,646.3 L1955.4,648.4 L1958.8,650.4 L1962.3,652.5 L1965.7,654.6 L1969.1,656.8 L1972.5,658.9 L1975.9,661.1 L1979.3,663.2 L1982.7,665.4 L1986.1,667.6 L1989.5,669.8 L1992.9,672.0 L1996.2,674.2 L1999.6,676.4 L2003.0,678.6 L2006.3,680.9 L2009.7,683.1 L2013.1,685.3 L2016.5,687.5 L2019.8,689.7 L2023.2,692.0 L2026.6,694.2 L2029.9,696.4 L2033.3,698.5 L2036.7,700.7 L2040.1,702.9 L2043.5,705.0 L2046.9,707.2 L2050.3,709.3 L2053.7,711.4 L2057.1,713.5 L2060.6,715.6 L2064.0,717.6 L2067.5,719.6 L2070.9,721.6 L2074.4,723.6 L2077.9,725.6 L2081.4,727.5 L2084.9,729.4 L2088.4,731.3 L2091.9,733.1 L2095.5,734.9 L2099.0,736.7 L2102.6,738.5 L2106.1,740.2 L2109.7,741.9 L2113.3,743.6 L2117.0,745.3 L2120.6,746.9 L2124.2,748.5 L2127.9,750.1 L2131.6,751.7 L2135.2,753.2 L2138.9,754.7 L2142.6,756.2 L2146.4,757.6 L2150.1,759.0 L2153.9,760.4 L2157.6,761.8 L2161.4,763.1 L2165.2,764.5 L2169.1,765.7 L2172.9,767.0 L2176.7,768.2 L2180.6,769.4 L2184.5,770.6 L2188.4,771.8 L2192.3,772.9 L2196.2,774.0 L2204.1,776.2"/>
</g>
<g font-family="'Liberation Serif', 'Times New Roman', serif" font-weight="bold" font-size="85px">
<text transform="translate(686,225.2) scale(1.012,1)" fill="#92d050">DNA</text>
<text transform="translate(686,324.9) scale(1.0137,1)" fill="#f00">DNA+GO-NCD-1</text>
<text transform="translate(686,422.9) scale(1.0137,1)" fill="#0070c0">DNA+GO-NCD-2</text>
</g>
<g font-family="'Liberation Serif', 'Times New Roman', serif" font-weight="bold" fill="#000">
<text id="xt" transform="translate(1260.5,1755) scale(1.067,1)" font-size="110px" text-anchor="middle">Wavelength (nm)</text>
<text id="yt" transform="translate(125.7,885.8) scale(1.01,1) rotate(-90)" font-size="112.2px" text-anchor="middle">CD [mdeg]</text>
</g>
</svg>
</body>
</html>
